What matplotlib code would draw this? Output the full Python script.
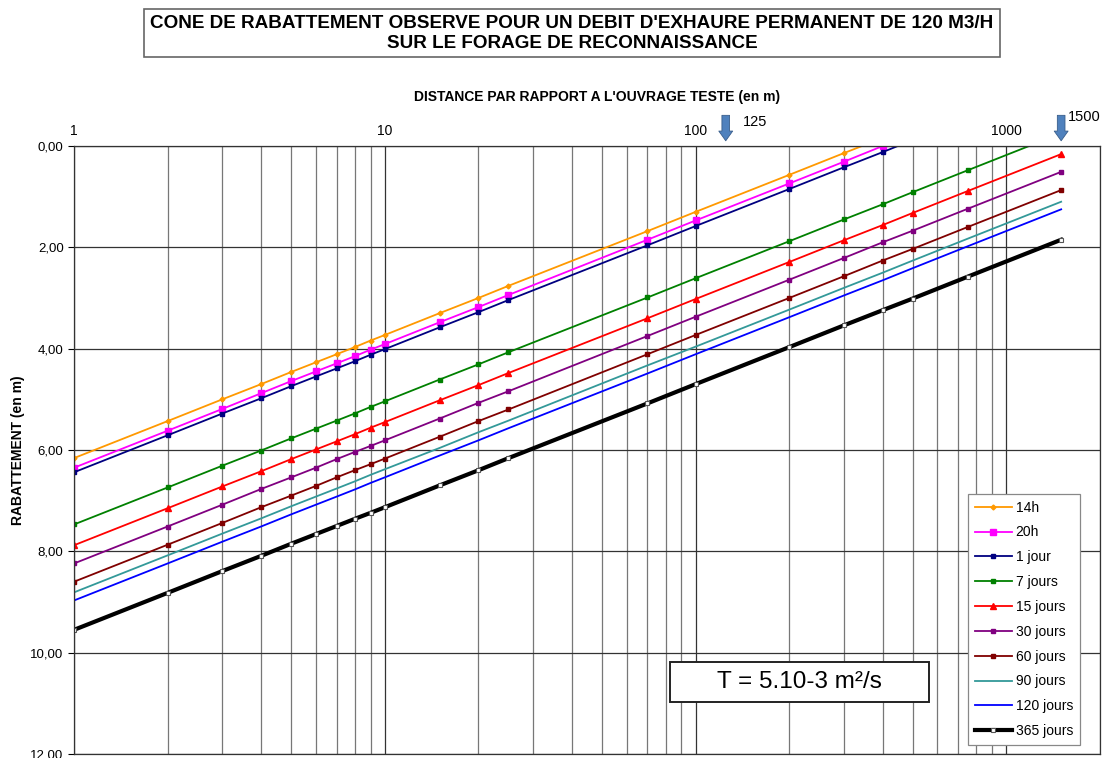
import matplotlib
matplotlib.use("Agg")
import matplotlib.pyplot as plt
from matplotlib.patches import Rectangle
from matplotlib.ticker import FixedLocator, FuncFormatter, NullFormatter, LogLocator

# ---------------- data ----------------
distance = [1, 2, 3, 4, 5, 6, 7, 8, 9, 10, 15, 20, 25, 70, 100, 200, 300, 400, 500, 750, 1500]

s_14h = [6.16, 5.43, 5.00, 4.70, 4.46, 4.27, 4.11, 3.97, 3.84, 3.73, 3.30, 3.00, 2.76, 1.68, 1.30, 0.57, 0.14, -0.16, -0.40, -0.83, -1.56]
s_20h = [6.35, 5.62, 5.19, 4.88, 4.64, 4.45, 4.29, 4.15, 4.02, 3.91, 3.48, 3.18, 2.94, 1.85, 1.47, 0.74, 0.31, 0.00, -0.24, -0.67, -1.40]
s_1j = [6.44, 5.71, 5.28, 4.98, 4.74, 4.55, 4.39, 4.25, 4.12, 4.01, 3.58, 3.28, 3.04, 1.96, 1.58, 0.85, 0.42, 0.12, -0.12, -0.55, -1.28]
s_7j = [7.47, 6.74, 6.31, 6.01, 5.77, 5.58, 5.42, 5.28, 5.15, 5.04, 4.61, 4.31, 4.07, 2.99, 2.61, 1.88, 1.45, 1.15, 0.91, 0.48, -0.25]
s_15j = [7.88, 7.15, 6.72, 6.42, 6.18, 5.99, 5.83, 5.69, 5.56, 5.45, 5.02, 4.72, 4.48, 3.40, 3.02, 2.29, 1.86, 1.56, 1.32, 0.89, 0.16]
s_30j = [8.24, 7.51, 7.08, 6.77, 6.54, 6.35, 6.18, 6.04, 5.92, 5.81, 5.38, 5.07, 4.84, 3.75, 3.37, 2.64, 2.21, 1.90, 1.67, 1.24, 0.51]
s_60j = [8.60, 7.87, 7.44, 7.13, 6.90, 6.71, 6.54, 6.40, 6.28, 6.17, 5.74, 5.43, 5.20, 4.11, 3.73, 3.00, 2.57, 2.26, 2.03, 1.60, 0.87]
s_90j = [8.81, 8.08, 7.65, 7.35, 7.11, 6.92, 6.76, 6.62, 6.49, 6.38, 5.96, 5.65, 5.42, 4.33, 3.96, 3.23, 2.80, 2.50, 2.26, 1.83, 1.10]
s_120j = [8.97, 8.24, 7.81, 7.51, 7.27, 7.08, 6.92, 6.78, 6.65, 6.54, 6.11, 5.81, 5.57, 4.49, 4.11, 3.38, 2.95, 2.65, 2.41, 1.98, 1.25]
s_365j = [9.55, 8.82, 8.39, 8.09, 7.85, 7.66, 7.50, 7.36, 7.24, 7.13, 6.70, 6.40, 6.16, 5.08, 4.70, 3.97, 3.54, 3.24, 3.01, 2.58, 1.85]

labels = ["14h", "20h", "1 jour", "7 jours", "15 jours", "30 jours", "60 jours", "90 jours", "120 jours", "365 jours"]
x_ticks = [1, 10, 100, 1000]
y_ticks = [0, 2, 4, 6, 8, 10, 12]
arrow_positions = [125, 1500]
arrow_labels = ["125", "1500"]

title_line1 = "CONE DE RABATTEMENT OBSERVE POUR UN DEBIT D'EXHAURE PERMANENT DE 120 M3/H"
title_line2 = "SUR LE FORAGE DE RECONNAISSANCE"
xlabel = "DISTANCE PAR RAPPORT A L'OUVRAGE TESTE (en m)"
ylabel = "RABATTEMENT (en m)"
note = "T = 5.10-3 m\u00b2/s"

# ---------------- figure ----------------
plt.rcParams['font.family'] = ['Liberation Sans', 'DejaVu Sans']
fig = plt.figure(figsize=(11.09, 7.58), dpi=100)
W, H = 1109, 758
L, R, T, B = 74, 1100, 146, 754
ax = fig.add_axes([L / W, 1 - B / H, (R - L) / W, (B - T) / H])

styles = [
    dict(color="#FF9900", marker="D", ms=2.5, lw=1.3),
    dict(color="#FF00FF", marker="s", ms=4.5, lw=1.3),
    dict(color="#000080", marker="s", ms=3.5, lw=1.3),
    dict(color="#008000", marker="s", ms=3.5, lw=1.3),
    dict(color="#FF0000", marker="^", ms=4, lw=1.3),
    dict(color="#800080", marker="s", ms=3.5, lw=1.3),
    dict(color="#800000", marker="s", ms=3.5, lw=1.3),
    dict(color="#339999", marker=None, lw=1.3),
    dict(color="#0000FF", marker=None, lw=1.3),
    dict(color="#000000", marker="s", ms=3.5, lw=3, mfc="white", mec="#555555", mew=0.8),
]
series = [s_14h, s_20h, s_1j, s_7j, s_15j, s_30j, s_60j, s_90j, s_120j, s_365j]
for lab, vals, st in zip(labels, series, styles):
    ax.plot(distance, vals, label=lab, **st)

ax.set_xscale("log")
ax.set_xlim(1, 2000)
ax.set_ylim(12, 0)

ax.xaxis.set_major_locator(FixedLocator(x_ticks))
ax.xaxis.set_major_formatter(FuncFormatter(lambda v, p: "%d" % v))
ax.xaxis.set_minor_locator(LogLocator(base=10, subs=range(2, 10), numticks=20))
ax.xaxis.set_minor_formatter(NullFormatter())
ax.xaxis.tick_top()
ax.tick_params(axis="x", which="both", length=0, labelsize=10, pad=6)

ax.yaxis.set_major_locator(FixedLocator(y_ticks))
ax.yaxis.set_major_formatter(FuncFormatter(lambda v, p: ("%.2f" % v).replace(".", ",")))
ax.tick_params(axis="y", which="major", length=4, labelsize=9.5, direction="out")

ax.grid(True, axis="x", which="major", color="#333333", lw=0.9)
ax.grid(True, axis="x", which="minor", color="#777777", lw=0.9)
ax.grid(True, axis="y", which="major", color="#333333", lw=0.9)
ax.set_axisbelow(True)
for sp in ax.spines.values():
    sp.set_color("#333333")
    sp.set_linewidth(0.9)

fig.text(597 / W, 1 - 97 / H, xlabel, ha="center", va="center", fontsize=10, fontweight="bold")
fig.text(18 / W, 1 - 450 / H, ylabel, ha="center", va="center", rotation=90, fontsize=10, fontweight="bold")

# title box
fig.patches.append(Rectangle((144 / W, 1 - 57 / H), 856 / W, 48 / H, transform=fig.transFigure,
                             fill=False, edgecolor="#666666", lw=1.2))
fig.text(572 / W, 1 - 23 / H, title_line1, ha="center", va="center", fontsize=13.6, fontweight="bold")
fig.text(572 / W, 1 - 43 / H, title_line2, ha="center", va="center", fontsize=13.6, fontweight="bold")

# arrows
for xa in arrow_positions:
    ax.annotate("", xy=(xa, 1.004), xytext=(xa, 1.055), xycoords=("data", "axes fraction"),
                textcoords=("data", "axes fraction"),
                arrowprops=dict(arrowstyle="simple,head_width=1.0,head_length=0.7,tail_width=0.55",
                                fc="#4F81BD", ec="#385D8A", lw=0.6), annotation_clip=False)
ax.annotate(arrow_labels[0], xy=(arrow_positions[0], 1.04), xycoords=("data", "axes fraction"),
            xytext=(12, 0), textcoords="offset points", ha="left", va="center", fontsize=10.5,
            annotation_clip=False)
ax.annotate(arrow_labels[1], xy=(arrow_positions[1], 1.047), xycoords=("data", "axes fraction"),
            xytext=(5, 0), textcoords="offset points", ha="left", va="center", fontsize=10.5,
            annotation_clip=False)

# T note
fig.patches.append(Rectangle((670 / W, 1 - 702 / H), 259 / W, 40 / H, transform=fig.transFigure,
                             facecolor="white", edgecolor="#222222", lw=1.4, zorder=5))
fig.text(799 / W, 1 - 682 / H, note, ha="center", va="center", fontsize=17.5, zorder=6)

leg = ax.legend(loc="lower right", bbox_to_anchor=((1080 - L) / (R - L), (754 - 745) / (B - T)),
                fontsize=10, frameon=True, fancybox=False, edgecolor="#888888", framealpha=1,
                handlelength=2.6, handletextpad=0.3, labelspacing=0.78, borderpad=0.5,
                numpoints=1, borderaxespad=0)
leg.get_frame().set_linewidth(0.9)

fig.savefig("out.png", dpi=100)
